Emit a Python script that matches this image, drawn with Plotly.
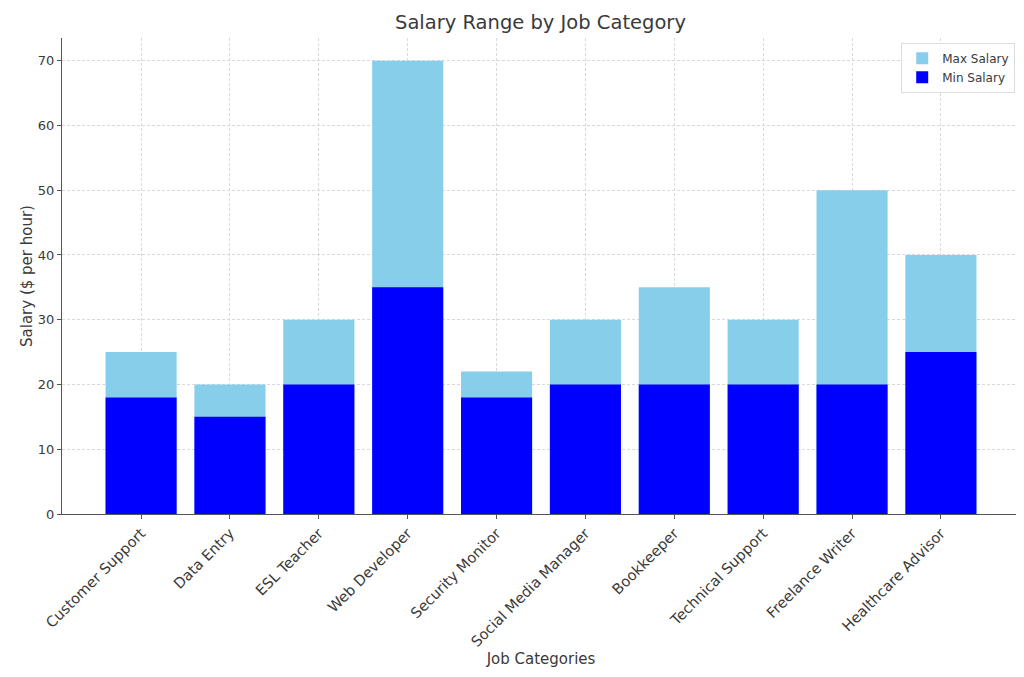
import plotly.graph_objects as go

categories = ["Customer Support", "Data Entry", "ESL Teacher", "Web Developer",
              "Security Monitor", "Social Media Manager", "Bookkeeper",
              "Technical Support", "Freelance Writer", "Healthcare Advisor"]
min_salary = [18, 15, 20, 35, 18, 20, 20, 20, 20, 25]
max_salary = [25, 20, 30, 70, 22, 30, 35, 30, 50, 40]

fig = go.Figure()
fig.add_trace(go.Bar(x=categories, y=max_salary, name="Max Salary",
                     marker=dict(color="#87CEEB", line=dict(width=0)), width=0.8))
fig.add_trace(go.Bar(x=categories, y=min_salary, name="Min Salary",
                     marker=dict(color="#0000FF", line=dict(width=0)), width=0.8))

font = "DejaVu Sans, sans-serif"
grid = dict(showgrid=True, gridcolor="#D9D9D9", griddash="3px,2px", gridwidth=0.8)
fig.update_layout(
    barmode="overlay",
    width=1024, height=677,
    margin=dict(l=54, r=12, t=30, b=171),
    paper_bgcolor="white", plot_bgcolor="white",
    font=dict(family=font, size=12, color="#3A3A3A"),
    title=dict(text="Salary Range by Job Category", x=0.52, xanchor="center",
               y=0.979, yanchor="middle", font=dict(size=19.5, color="#3A3A3A")),
    legend=dict(x=0.995, y=0.99, xanchor="right", yanchor="top",
                bgcolor="rgba(255,255,255,0.8)", bordercolor="#DDDDDD", borderwidth=1,
                font=dict(size=12)),
    xaxis=dict(
        title=dict(text="Job Categories", font=dict(size=15), standoff=0),
        range=[-0.89, 9.89], tickangle=-45,
        showline=True, linecolor="#555555", linewidth=1.2,
        ticks="outside", ticklen=4, tickcolor="#555555",
        tickfont=dict(size=14.6), **grid,
    ),
    yaxis=dict(
        title=dict(text="Salary ($ per hour)", font=dict(size=15), standoff=1),
        range=[0, 73.5], dtick=10,
        showline=True, linecolor="#555555", linewidth=1.2,
        ticks="outside", ticklen=4, tickcolor="#555555",
        tickfont=dict(size=13), zeroline=False, **grid,
    ),
)

fig.write_html("out.html")
